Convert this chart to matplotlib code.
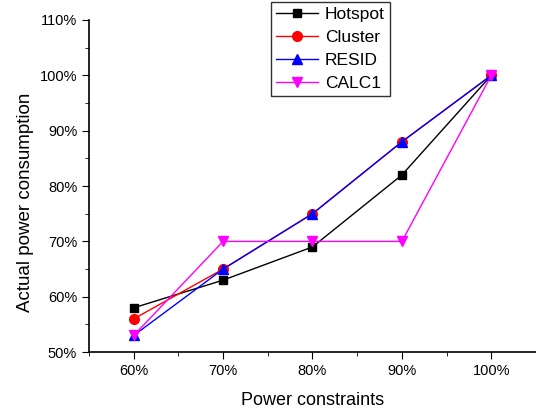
import matplotlib
matplotlib.use("Agg")
import matplotlib.pyplot as plt
from matplotlib.ticker import MultipleLocator, FuncFormatter

plt.rcParams['font.family'] = ['Liberation Sans', 'DejaVu Sans']

# 数据
constraints = [60, 70, 80, 90, 100]
hotspot = [58, 63, 69, 82, 100]
cluster = [56, 65, 75, 88, 100]
resid = [53, 65, 75, 88, 100]
calc1 = [53, 70, 70, 70, 100]

fig = plt.figure(figsize=(5.36, 4.08), dpi=100)
ax = fig.add_axes([0.166, 0.137, 0.834, 0.814])

ax.plot(constraints, hotspot, color='black', marker='s', markersize=6, lw=1, label='Hotspot')
ax.plot(constraints, cluster, color='red', marker='o', markersize=7, lw=1, label='Cluster')
ax.plot(constraints, resid, color='blue', marker='^', markersize=7, lw=1, label='RESID')
ax.plot(constraints, calc1, color='magenta', marker='v', markersize=7, lw=1, label='CALC1')

ax.set_xlim(55, 105)
ax.set_ylim(50, 110)
ax.xaxis.set_major_locator(MultipleLocator(10))
ax.xaxis.set_minor_locator(MultipleLocator(5))
ax.yaxis.set_major_locator(MultipleLocator(10))
ax.yaxis.set_minor_locator(MultipleLocator(5))
pct = FuncFormatter(lambda v, p: f"{v:.0f}%")
ax.xaxis.set_major_formatter(pct)
ax.yaxis.set_major_formatter(pct)
ax.tick_params(which='major', direction='out', length=5, labelsize=10.5)
ax.tick_params(which='minor', direction='out', length=3)

ax.spines['top'].set_visible(False)
ax.spines['right'].set_visible(False)
ax.spines['left'].set_linewidth(1.2)
ax.spines['bottom'].set_linewidth(1.2)

ax.set_xlabel('Power constraints', fontsize=13, labelpad=10)
ax.set_ylabel('Actual power consumption', fontsize=13.5)
ax.yaxis.set_label_coords(-0.123, 0.452)

leg = fig.legend(loc='upper left', bbox_to_anchor=(0.506, 0.996), fontsize=12.5,
                 frameon=True, fancybox=False, edgecolor='black',
                 handlelength=2.4, borderpad=0.3, labelspacing=0.45, handletextpad=0.4,
                 borderaxespad=0)
leg.get_frame().set_linewidth(1)

fig.savefig('out.png', dpi=100)
